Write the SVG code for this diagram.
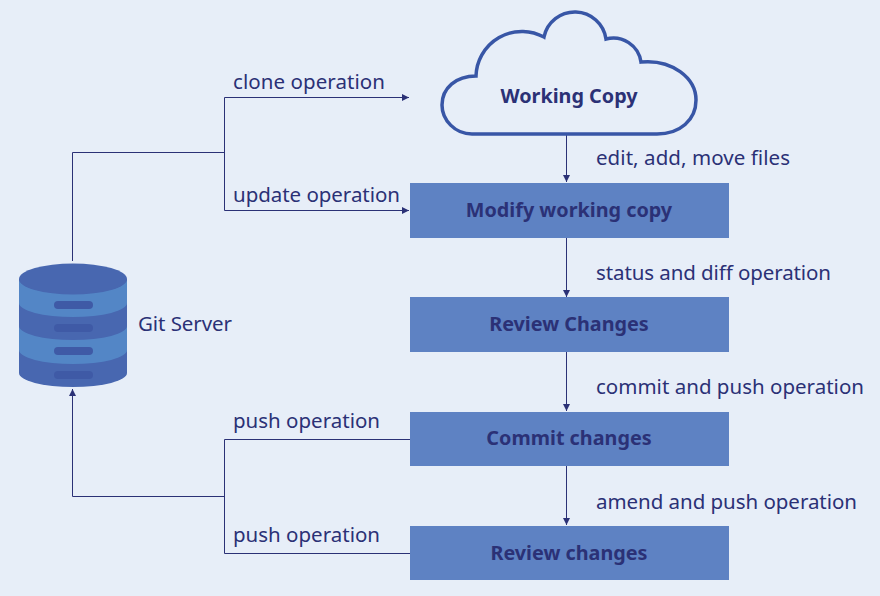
<svg xmlns="http://www.w3.org/2000/svg" width="880" height="596" viewBox="0 0 880 596">
<style>
text{font-family:"Noto Sans","Open Sans",sans-serif;fill:#2b3176}
.l{font-size:20.5px}
.b{font-size:19.800px;font-weight:700;text-anchor:middle}
.n{fill:#5e82c3}
.c{fill:none;stroke:#2b3176;stroke-width:1}
.d{fill:#4867b0}.e{fill:#5386c6}.s{fill:#3f5aa6}
</style>
<defs><marker id="a" markerUnits="userSpaceOnUse" markerWidth="8" markerHeight="8" refX="7" refY="4" orient="auto"><path d="M0 .5L7 4L0 7.500Z" fill="#2b3176"/></marker></defs>
<rect width="880" height="596" fill="#e7eef8"/>
<g id="connectors">
<path class="c" d="M72.500 261V152.500H224.500"/>
<path class="c" d="M224.500 97.500V210.500H409" marker-end="url(#a)"/>
<path class="c" d="M224.500 97.500H409" marker-end="url(#a)"/>
<path class="c" d="M566.500 134V182" marker-end="url(#a)"/>
<path class="c" d="M566.500 238V297" marker-end="url(#a)"/>
<path class="c" d="M566.500 352V411" marker-end="url(#a)"/>
<path class="c" d="M566.500 466V525" marker-end="url(#a)"/>
<path class="c" d="M410 439.500H224.500V553.500H410"/>
<path class="c" d="M224.500 496.500H72.500V389" marker-end="url(#a)"/>
</g>
<g id="git-server">
<path class="d" d="M19 279V373A54 14 0 0 0 127 373V279Z"/>
<path class="e" d="M19 279A54 15 0 0 0 127 279V303A54 14 0 0 1 19 303Z"/>
<path class="e" d="M19 326A54 14 0 0 0 127 326V350A54 14 0 0 1 19 350Z"/>
<ellipse class="d" cx="73" cy="279" rx="54" ry="15.500"/>
<rect class="s" x="54" y="301" width="39" height="8" rx="4"/>
<rect class="s" x="54" y="324" width="39" height="8" rx="4"/>
<rect class="s" x="54" y="347" width="39" height="8" rx="4"/>
<rect class="s" x="54" y="371" width="39" height="8" rx="4"/>
<text class="l" x="138" y="331" textLength="94">Git Server</text>
</g>
<g id="working-copy">
<path d="M472 134C455 134 442 120 442 105C442 88 456 76 476 76A46 46 0 0 1 544 37A31.500 31.500 0 0 1 606 39A28 28 0 0 1 641 62C672 59 696 78 696 100C696 120 680 134 657 134Z" fill="none" stroke="#3856a6" stroke-width="3.500"/>
<text class="b" x="569" y="103">Working Copy</text>
</g>
<g id="modify"><rect class="n" x="410" y="183" width="319" height="55"/><text class="b" x="569" y="217">Modify working copy</text></g>
<g id="review-changes"><rect class="n" x="410" y="297" width="319" height="55"/><text class="b" x="569" y="331">Review Changes</text></g>
<g id="commit"><rect class="n" x="410" y="412" width="319" height="54"/><text class="b" x="569" y="445">Commit changes</text></g>
<g id="review-changes-2"><rect class="n" x="410" y="526" width="319" height="54"/><text class="b" x="569" y="560">Review changes</text></g>
<g id="labels">
<text class="l" x="233" y="89" textLength="152">clone operation</text>
<text class="l" x="233" y="202" textLength="167">update operation</text>
<text class="l" x="596" y="165" textLength="194">edit, add, move files</text>
<text class="l" x="596" y="280" textLength="235">status and diff operation</text>
<text class="l" x="596" y="394" textLength="268">commit and push operation</text>
<text class="l" x="596" y="509" textLength="261">amend and push operation</text>
<text class="l" x="233" y="428" textLength="147">push operation</text>
<text class="l" x="233" y="542" textLength="147">push operation</text>
</g>
</svg>
